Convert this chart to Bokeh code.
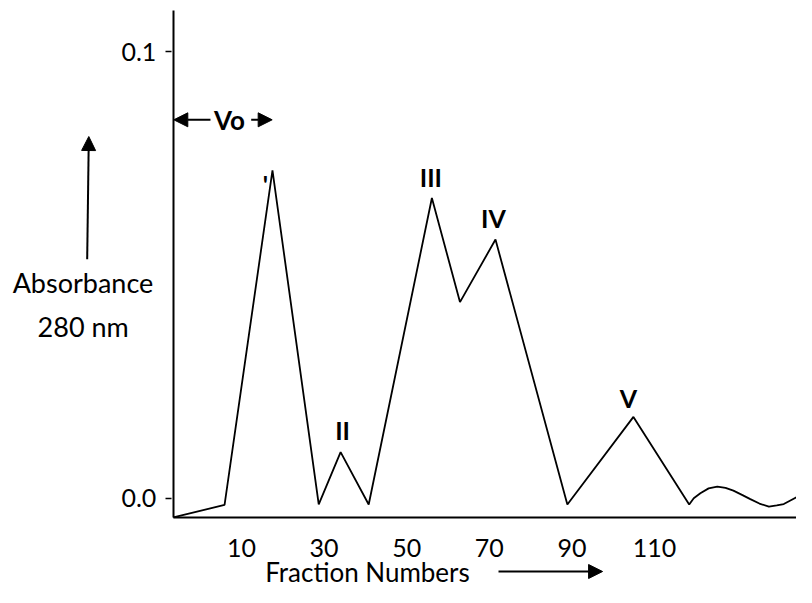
from bokeh.plotting import figure
from bokeh.models import Range1d, FixedTicker, PrintfTickFormatter, Label, Arrow, NormalHead
from bokeh.embed import file_html
from bokeh.resources import INLINE

# ---- data ----
fraction = [-6.5, 5.9, 17.5, 28.7, 34.0, 40.8, 56.1, 62.9, 71.5, 88.9, 104.9, 118.4,
            119.5, 121.1, 123.1, 125.2, 127.2, 129.1, 131.3, 133.2, 135.4, 137.7,
            139.6, 141.3, 142.9, 144.7]
absorbance = [-0.0043, -0.0015, 0.0734, -0.0014, 0.0103, -0.0014, 0.0672, 0.0439,
              0.0579, -0.0014, 0.0182, -0.0014, 0.0000, 0.0011, 0.0022, 0.0026,
              0.0023, 0.0017, 0.0007, -0.0002, -0.0012, -0.0019, -0.0016, -0.0013,
              -0.0005, 0.0004]
x_ticks = [10, 30, 50, 70, 90, 110]
y_ticks = [0.0, 0.1]
peak_names = ["'", "II", "III", "IV", "V"]
peak_index = [2, 4, 6, 8, 10]

FONT = "Lato"
FS = "25px"
FS_T = "27px"

p = figure(width=796, height=587,
           x_range=Range1d(-48.35, 144.38), y_range=Range1d(-0.019991, 0.11142),
           output_backend="svg", toolbar_location=None, min_border=0)
p.outline_line_color = None
p.grid.visible = False
p.background_fill_color = "white"

x0 = fraction[0]
y0 = absorbance[0]

# x axis
xa = p.xaxis[0]
xa.fixed_location = y0
xa.bounds = (x0, 144.38)
xa.ticker = FixedTicker(ticks=x_ticks)
xa.major_tick_line_color = None
xa.minor_tick_line_color = None
xa.axis_line_width = 2
xa.axis_line_color = "black"
xa.major_label_text_font = FONT
xa.major_label_text_font_size = FS
xa.major_label_text_color = "black"
xa.major_label_standoff = 16

# y axis
ya = p.yaxis[0]
ya.fixed_location = x0
ya.bounds = (y0, 0.1092)
ya.ticker = FixedTicker(ticks=y_ticks)
ya.formatter = PrintfTickFormatter(format="%.1f")
ya.minor_tick_line_color = None
ya.major_tick_in = -2
ya.major_tick_out = 8
ya.major_tick_line_width = 1.5
ya.major_tick_line_color = "black"
ya.axis_line_width = 2
ya.axis_line_color = "black"
ya.major_label_text_font = FONT
ya.major_label_text_font_size = FS
ya.major_label_text_color = "black"
ya.major_label_standoff = 9

# chromatogram
p.line(fraction, absorbance, line_color="black", line_width=1.8)

# peak labels
x_offs = [-7, 2, -1, -2, -5]
y_offs = [-14, 22, 21, 22, 19]
for name, i, dx, dy in zip(peak_names, peak_index, x_offs, y_offs):
    p.add_layout(Label(x=fraction[i], y=absorbance[i], x_offset=dx, y_offset=dy,
                       text=name, text_font=FONT, text_font_size=FS,
                       text_font_style="bold", text_align="center",
                       text_baseline="middle", text_color="black"))

def txt(x, y, s, size, bold=False):
    p.add_layout(Label(x=x, y=y, text=s, text_font=FONT, text_font_size=size,
                       text_font_style="bold" if bold else "normal",
                       text_align="center", text_baseline="middle", text_color="black"))

txt(-28.38, 0.04829, "Absorbance", FS_T)
txt(-28.33, 0.03844, "280 nm", FS_T)
txt(40.5, -0.01641, "Fraction Numbers", "26px")
txt(7.09, 0.08471, "Vo", "26px", bold=True)

def arrow(xs, ys, xe, ye):
    p.add_layout(Arrow(x_start=xs, y_start=ys, x_end=xe, y_end=ye,
                       line_color="black", line_width=2,
                       end=NormalHead(size=14, fill_color="black", line_color="black", line_width=1)))

arrow(2.49, 0.08471, -6.39, 0.08471)
arrow(12.35, 0.08471, 17.43, 0.08471)
arrow(-27.36, 0.0535, -26.97, 0.08097)
arrow(72.23, -0.01641, 97.43, -0.01641)

open("out.html", "w").write(file_html(p, INLINE))
